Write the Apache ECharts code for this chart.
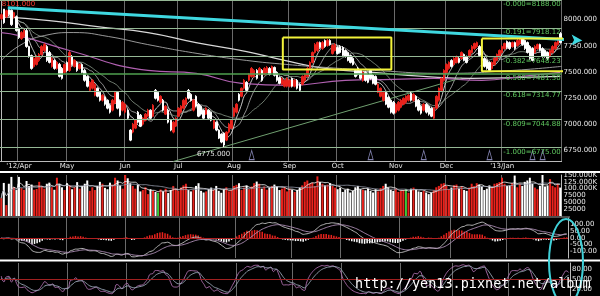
<!DOCTYPE html>
<html><head><meta charset="utf-8">
<script src="https://cdn.jsdelivr.net/npm/echarts@6/dist/echarts.min.js"></script>
<style>html,body{margin:0;padding:0;background:#000}#c{width:600px;height:296px}</style>
</head><body><div id="c"></div>
<script>
// ---------- DATA ----------
const monthLabels = ["'12/Apr","May","Jun","Jul","Aug","Sep","Oct","Nov","Dec","'13/Jan"];
const monthStarts = [7,26,49,70,92,114,133,156,176,198];
// daily candles [open, close, low, high]
const d_mar = [[8009,8047,7995,8060],[8101,7971,7960,8101],[8028,8086,8015,8095],[8095,8047,8035,8100],[8090,7952,7940,8098],[8028,8067,8010,8075],[8028,7895,7885,8040]];
const d_apr = [[7914,7828,7815,7925],[7819,7876,7805,7890],[7838,7895,7825,7905],[7895,7742,7730,7910],[7742,7647,7635,7750],[7656,7532,7520,7665],[7551,7628,7540,7640],[7570,7647,7560,7660],[7609,7666,7595,7680],[7666,7742,7655,7755],[7704,7761,7690,7775],[7742,7609,7595,7755],[7685,7590,7580,7700],[7551,7628,7540,7640],[7609,7532,7520,7620],[7532,7590,7520,7600],[7570,7456,7445,7585],[7532,7437,7425,7545],[7494,7570,7480,7580]];
const d_may = [[7590,7513,7500,7600],[7513,7685,7500,7700],[7647,7570,7560,7660],[7551,7609,7540,7620],[7590,7513,7500,7600],[7532,7570,7520,7580],[7570,7494,7485,7580],[7513,7418,7405,7525],[7456,7361,7350,7465],[7322,7399,7310,7410],[7342,7418,7330,7430],[7275,7380,7265,7390],[7342,7265,7255,7350],[7303,7227,7215,7310],[7227,7275,7215,7285],[7256,7189,7175,7265],[7227,7151,7140,7235],[7179,7113,7100,7190],[7132,7227,7120,7240],[7198,7303,7190,7315],[7303,7151,7140,7315],[7227,7084,7070,7235],[7132,7208,7120,7220]];
const d_jun = [[7113,7189,7100,7200],[7132,7055,7045,7140],[6941,6845,6835,6950],[6922,6998,6910,7010],[6960,7036,6950,7045],[7113,7017,7005,7125],[7084,6979,6970,7095],[6998,7055,6985,7065],[7036,7094,7025,7105],[7074,7132,7065,7145],[7132,7055,7045,7140],[7074,7179,7065,7190],[7322,7246,7235,7335],[7303,7227,7215,7315],[7208,7265,7195,7275],[7227,7132,7120,7240],[7094,7170,7085,7180],[7132,7017,7005,7145],[7036,6941,6930,7045],[6922,7017,6910,7030],[6979,7055,6970,7065]];
const d_jul = [[7074,7151,7065,7160],[7113,7170,7100,7180],[7151,7227,7140,7240],[7189,7246,7180,7255],[7322,7246,7235,7335],[7284,7227,7215,7295],[7132,7227,7120,7240],[7265,7170,7160,7275],[7189,7074,7065,7200],[7170,7094,7080,7180],[7132,7055,7045,7140],[7094,7151,7085,7160],[7132,7055,7045,7140],[7113,7036,7025,7120],[6960,7036,6950,7045],[7017,6941,6930,7025],[6941,6864,6855,6950],[6903,6826,6815,6910],[6912,6798,6775,6920],[6845,6922,6835,6930],[6922,6998,6910,7010],[6960,7036,6950,7045]];
const d_aug = [[7074,7151,7065,7160],[7113,7189,7100,7200],[7284,7227,7215,7295],[7265,7342,7255,7350],[7342,7418,7330,7430],[7399,7322,7310,7410],[7418,7475,7405,7485],[7456,7532,7445,7545],[7456,7513,7445,7525],[7513,7437,7425,7525],[7475,7532,7465,7545],[7513,7418,7405,7525],[7475,7532,7465,7545],[7494,7542,7485,7555],[7532,7475,7465,7545],[7494,7551,7485,7560],[7542,7466,7455,7550],[7494,7418,7405,7505],[7446,7389,7380,7455],[7380,7437,7370,7445],[7361,7418,7350,7430],[7361,7437,7350,7445]];
const d_sep = [[7361,7418,7350,7430],[7437,7361,7350,7445],[7361,7418,7350,7430],[7418,7342,7330,7430],[7380,7322,7310,7390],[7380,7456,7370,7465],[7418,7475,7405,7485],[7456,7532,7445,7545],[7532,7590,7520,7600],[7590,7685,7580,7695],[7685,7761,7675,7775],[7704,7780,7690,7790],[7780,7733,7720,7790],[7723,7780,7710,7795],[7800,7742,7730,7810],[7752,7800,7740,7815],[7800,7761,7750,7812],[7675,7752,7665,7765],[7704,7761,7695,7775]];
const d_oct = [[7733,7675,7665,7745],[7742,7685,7675,7755],[7733,7656,7645,7745],[7704,7647,7635,7715],[7685,7609,7600,7695],[7656,7590,7580,7665],[7628,7570,7560,7640],[7513,7456,7445,7525],[7532,7475,7465,7545],[7513,7437,7425,7525],[7418,7494,7405,7505],[7494,7418,7405,7505],[7475,7399,7390,7485],[7513,7437,7425,7525],[7466,7389,7380,7475],[7456,7380,7370,7465],[7303,7380,7295,7390],[7265,7342,7255,7350],[7227,7303,7215,7315],[7303,7189,7180,7315],[7256,7160,7150,7265],[7227,7113,7100,7235],[7208,7103,7090,7220]];
const d_nov = [[7113,7189,7100,7200],[7132,7208,7120,7220],[7160,7227,7150,7240],[7189,7246,7180,7255],[7208,7265,7195,7275],[7227,7275,7215,7285],[7294,7227,7215,7305],[7227,7284,7215,7295],[7265,7170,7160,7275],[7227,7132,7120,7240],[7170,7103,7090,7180],[7132,7189,7120,7200],[7189,7113,7100,7200],[7170,7094,7080,7180],[7151,7074,7065,7160],[7055,7151,7045,7160],[7151,7265,7140,7275],[7227,7342,7215,7350],[7322,7437,7310,7445],[7418,7513,7405,7525]];
const d_dec = [[7494,7570,7485,7580],[7532,7590,7520,7600],[7609,7551,7540,7620],[7570,7628,7560,7640],[7590,7647,7580,7655],[7628,7590,7580,7640],[7628,7685,7615,7695],[7666,7609,7600,7675],[7647,7590,7580,7655],[7647,7704,7635,7715],[7685,7742,7675,7755],[7723,7771,7710,7780],[7742,7780,7730,7790],[7742,7656,7645,7755],[7685,7609,7600,7695],[7628,7551,7540,7640],[7609,7532,7520,7620],[7590,7513,7500,7600],[7532,7590,7520,7600],[7570,7628,7560,7640],[7609,7666,7600,7675],[7647,7704,7635,7715]];
const d_jan = [[7685,7742,7675,7755],[7723,7771,7710,7780],[7790,7733,7720,7800],[7780,7723,7710,7790],[7742,7780,7730,7790],[7780,7723,7710,7790],[7752,7800,7740,7815],[7771,7819,7760,7830],[7819,7761,7750,7830],[7800,7723,7710,7810],[7780,7685,7675,7790],[7742,7628,7615,7755],[7723,7609,7600,7735],[7685,7742,7675,7755],[7723,7761,7710,7770],[7761,7704,7695,7770],[7723,7647,7635,7735],[7704,7647,7635,7715],[7685,7628,7615,7695],[7647,7704,7635,7715],[7685,7742,7675,7755],[7723,7780,7710,7790],[7761,7819,7750,7830],[7866,7780,7770,7880]];
// daily volume (thousand)
const v_mar = [65,121,40,118,143,105,95];
const v_apr = [143,102,96,128,110,115,96,99,125,110,100,118,122,105,96,140,118,105,95];
const v_may = [120,113,98,105,124,100,110,118,130,92,105,95,110,125,118,103,98,122,115,140,130,112,100];
const v_jun = [150,138,120,110,100,115,90,95,105,80,98,92,88,85,97,90,100,84,95,110,100];
const v_jul = [92,104,112,118,95,90,96,110,120,92,86,90,98,104,96,110,92,85,98,105,90,95];
const v_aug = [110,114,120,95,104,112,98,108,120,126,118,100,108,96,104,110,115,108,95,100,105,90];
const v_sep = [100,96,88,95,104,112,125,130,118,122,110,145,124,118,112,115,120,110,104];
const v_oct = [98,104,88,96,100,86,92,105,110,98,96,94,100,92,86,98,90,102,110,118,104,96,92];
const v_nov = [100,88,92,95,98,85,100,104,96,90,88,92,86,80,85,94,105,110,118,120];
const v_dec = [110,98,104,112,115,100,108,95,92,104,118,110,120,115,108,95,100,112,105,118,120,124];
const v_jan = [140,118,110,112,120,148,105,118,110,125,130,140,118,104,98,110,150,108,112,135,110,105,118,104];
const greenVolDays = [62,160];
// long moving averages read at sparse points [dayIndex, price]
const maLongWhite = [[0,8028],[19,7990],[38,7933],[58,7876],[77,7780],[97,7694],[112,7609],[128,7532],[147,7494],[167,7456],[186,7437],[206,7446],[221,7456]];
const maMagenta = [[0,7876],[7,7847],[27,7704],[58,7513],[77,7485],[95,7389],[114,7370],[136,7418],[155,7427],[171,7437],[190,7418],[206,7456],[221,7494]];
const maGray = [[0,7609],[7.3,7752],[17,7847],[28.7,7876],[42.4,7838],[57.9,7761],[77.4,7676],[96.9,7609],[112.5,7571],[128,7542],[147.5,7513],[174.8,7485],[202,7513],[221.5,7552]];
// Fibonacci retracement levels
const fibRatios = ['0.000','0.191','0.382','0.500','0.618','0.809','1.000'];
const fibValues = [8188,7918.12,7648.23,7481.50,7314.77,7044.88,6775.00];
// trend lines / boxes [dayIndex, price]
const cyanLine = [[2.6,8114],[229.7,7800]];
const greenTrend = [[68,6640],[182,7442]];
const box1 = [[111.3,7828],[154.2,7523]];
const box2 = [[190,7819],[229,7504]];
const signalDays = [99,146,167,193,210,214];
const signalPrice = 6702;
const priceTicks = [6750,7000,7250,7500,7750,8000];

// ---------- BUILD ----------
const ohlc = [].concat(d_mar,d_apr,d_may,d_jun,d_jul,d_aug,d_sep,d_oct,d_nov,d_dec,d_jan);
const vols = [].concat(v_mar,v_apr,v_may,v_jun,v_jul,v_aug,v_sep,v_oct,v_nov,v_dec,v_jan).map(v=>v*1000);
const N = ohlc.length;
const cats = ohlc.map((_,i)=>String(i));
const closes = ohlc.map(d=>d[1]);
const RED='#e8221c', WHITE='#ffffff';
function ma(arr,n){return arr.map((_,i)=>{const s=Math.max(0,i-n+1);let t=0;for(let k=s;k<=i;k++)t+=arr[k];return +(t/(i-s+1)).toFixed(2);});}
function ema(arr,n){const a=2/(n+1);const out=[];arr.forEach((v,i)=>out.push(i?out[i-1]*(1-a)+v*a:v));return out;}
const e12=ema(closes,12), e26=ema(closes,26);
const dif=e12.map((v,i)=>+(v-e26[i]).toFixed(2));
const dea=ema(dif,9).map(v=>+v.toFixed(2));
const hist=dif.map((v,i)=>+(v-dea[i]).toFixed(2));
let K=50,D=50;const kArr=[],dArr=[];
ohlc.forEach((d,i)=>{const s=Math.max(0,i-8);let lo=Infinity,hi=-Infinity;for(let k=s;k<=i;k++){lo=Math.min(lo,ohlc[k][2]);hi=Math.max(hi,ohlc[k][3]);}
 const rsv=hi>lo?(d[1]-lo)/(hi-lo)*100:50;K=K*2/3+rsv/3;D=D*2/3+K/3;kArr.push(+K.toFixed(2));dArr.push(+D.toFixed(2));});
const monthSet=new Set(monthStarts);
const font='DejaVu Sans';
const lbl={color:'#e8e8e8',fontSize:7,fontFamily:font,margin:2};
function xAx(gi,show){return {type:'category',gridIndex:gi,data:cats,boundaryGap:true,
 axisLine:{show:gi===0,lineStyle:{color:'#bbbbbb',width:1}},axisTick:{show:false},
 axisLabel:show?{show:true,color:'#e8e8e8',fontSize:7,fontFamily:font,margin:2,interval:(i)=>monthSet.has(i),formatter:(v)=>monthLabels[monthStarts.indexOf(+v)]||''}:{show:false},
 splitLine:{show:true,interval:(i)=>monthSet.has(i),lineStyle:{color:'#6a6a6a',width:1}}};}
// overlay x axis (index units, same span as the category bands)
const overlayX={type:'value',gridIndex:0,min:-0.5,max:N-0.5,show:false,splitLine:{show:false}};
const series=[];
series.push({type:'candlestick',xAxisIndex:0,yAxisIndex:0,data:ohlc,barWidth:2,z:4,
 itemStyle:{color:RED,color0:WHITE,borderColor:RED,borderColor0:WHITE,borderWidth:1},
 markPoint:{symbol:'circle',symbolSize:0,animation:false,data:[
  {type:'max',valueDim:'highest',label:{show:true,position:[-2,-8],color:'#ff3b30',fontSize:7,fontFamily:font,formatter:p=>p.value.toFixed(3)}},
  {type:'min',valueDim:'lowest',label:{show:true,position:[-27,3],color:'#e0e0e0',fontSize:7,fontFamily:font,formatter:p=>p.value.toFixed(3)}}]}});
const maDefs=[[5,'#ffffff'],[10,'#bdbdbd'],[20,'#8fa08f']];
maDefs.forEach(([n,c])=>series.push({type:'line',xAxisIndex:0,yAxisIndex:0,data:ma(closes,n),showSymbol:false,smooth:true,lineStyle:{color:c,width:0.8},z:3}));
series.push({type:'line',xAxisIndex:4,yAxisIndex:0,data:maLongWhite,showSymbol:false,smooth:true,lineStyle:{color:'#d8d8d8',width:1.2},z:3});
series.push({type:'line',xAxisIndex:4,yAxisIndex:0,data:maMagenta,showSymbol:false,smooth:true,lineStyle:{color:'#b060b0',width:1.2},z:3});
series.push({type:'line',xAxisIndex:4,yAxisIndex:0,data:maGray,showSymbol:false,smooth:true,lineStyle:{color:'#a8a8a8',width:0.9},z:3});
// Fibonacci lines
series.push({type:'line',xAxisIndex:0,yAxisIndex:0,data:[],clip:false,z:2,
 markLine:{silent:true,animation:false,symbol:'none',data:
  fibValues.map((v,i)=>({yAxis:v,lineStyle:{color:i===3?'#4fa04f':'#95b895',width:i===3?1.5:1,type:'solid'},label:{show:true,position:'insideEndBottom',distance:[1,1],color:'#5fc85f',fontSize:7,fontFamily:font,formatter:'-'+fibRatios[i]+'='+v.toFixed(2)}}))}});
// cyan trend line with arrow
series.push({type:'line',xAxisIndex:4,yAxisIndex:0,clip:false,z:6,symbol:'none',showSymbol:true,
 data:[cyanLine[0],{value:cyanLine[1],symbol:'arrow',symbolSize:[8,11],symbolRotate:-93}],
 itemStyle:{color:'#3fd8e0'},lineStyle:{color:'#3fd8e0',width:3}});
// green rising trend line
series.push({type:'line',xAxisIndex:4,yAxisIndex:0,clip:false,z:4,symbol:'none',data:greenTrend,lineStyle:{color:'#6f9f6f',width:1}});
// yellow boxes
[box1,box2].forEach(b=>series.push({type:'line',xAxisIndex:4,yAxisIndex:0,clip:false,z:6,symbol:'none',
 data:[[b[0][0],b[0][1]],[b[1][0],b[0][1]],[b[1][0],b[1][1]],[b[0][0],b[1][1]],[b[0][0],b[0][1]]],lineStyle:{color:'#f2f23a',width:2}}));
series.push({type:'scatter',xAxisIndex:0,yAxisIndex:0,data:signalDays.map(i=>[i,signalPrice]),symbol:'triangle',symbolSize:[5,9],itemStyle:{color:'rgba(0,0,0,0)',borderColor:'#a0a0d8',borderWidth:1},z:4});
// volume
series.push({type:'bar',xAxisIndex:1,yAxisIndex:1,barWidth:2,data:vols.map((v,i)=>({value:v,itemStyle:{color:greenVolDays.includes(i)?'#3cc83c':(ohlc[i][1]>=ohlc[i][0]?RED:WHITE)}}))});
series.push({type:'line',xAxisIndex:1,yAxisIndex:1,data:ma(vols,5),showSymbol:false,smooth:true,lineStyle:{color:'#ffffff',width:0.8}});
series.push({type:'line',xAxisIndex:1,yAxisIndex:1,data:ma(vols,20),showSymbol:false,smooth:true,lineStyle:{color:'#9aa0b0',width:0.8}});
// MACD
series.push({type:'bar',xAxisIndex:2,yAxisIndex:2,barWidth:1.5,data:hist.map(v=>({value:v,itemStyle:{color:v>=0?RED:WHITE}})),
 markLine:{silent:true,animation:false,symbol:'none',label:{show:false},data:[{yAxis:0,lineStyle:{color:'#b02020',width:1,type:'solid'}}]}});
series.push({type:'line',xAxisIndex:2,yAxisIndex:2,data:dif,showSymbol:false,smooth:true,lineStyle:{color:'#c8c8c8',width:0.9}});
series.push({type:'line',xAxisIndex:2,yAxisIndex:2,data:dea,showSymbol:false,smooth:true,lineStyle:{color:'#b090b8',width:0.9}});
// KD
series.push({type:'line',xAxisIndex:3,yAxisIndex:3,data:kArr,showSymbol:false,smooth:true,lineStyle:{color:'#b070b0',width:0.9},
 markLine:{silent:true,animation:false,symbol:'none',label:{show:false},data:[{yAxis:50,lineStyle:{color:'#a02020',width:1,type:'solid'}}]}});
series.push({type:'line',xAxisIndex:3,yAxisIndex:3,data:dArr,showSymbol:false,smooth:true,lineStyle:{color:'#9aa8b8',width:0.9}});

const yRight=(gi,o)=>Object.assign({type:'value',gridIndex:gi,position:'right',scale:false,
 axisLine:{show:true,lineStyle:{color:'#bbbbbb'}},axisTick:{show:false},splitLine:{show:false},axisLabel:Object.assign({},lbl)},o);
const option={backgroundColor:'#000',animation:false,
 grid:[{left:0,right:30,top:-0.7,height:161.7},{left:0,right:30,top:175,height:41},{left:0,right:30,top:218,height:40},{left:0,right:30,top:263,height:36.7}],
 xAxis:[xAx(0,true),xAx(1,false),xAx(2,false),xAx(3,false),overlayX],
 yAxis:[
  yRight(0,{min:6645,max:8188,axisLabel:Object.assign({},lbl,{customValues:priceTicks,formatter:v=>v.toFixed(3)})}),
  yRight(1,{min:0,max:150000,interval:25000,axisLabel:Object.assign({},lbl,{formatter:v=>v===0?'':(v>=100000?(v/1000).toFixed(3)+'K':String(v))})}),
  yRight(2,{min:-150,max:150,interval:50,axisLabel:Object.assign({},lbl,{formatter:v=>v.toFixed(2)})}),
  yRight(3,{min:0,max:100,interval:10,axisLabel:Object.assign({},lbl,{formatter:v=>[20,50,80].includes(v)?v.toFixed(2):''})})],
 series,
 graphic:[
  {type:'rect',shape:{x:0,y:171,width:600,height:2},style:{fill:'#ffffff'},silent:true},
  {type:'rect',shape:{x:0,y:216.5,width:570,height:1},style:{fill:'#9a9a9a'},silent:true},
  {type:'rect',shape:{x:0,y:259.5,width:600,height:2},style:{fill:'#ffffff'},silent:true},
  {type:'ellipse',shape:{cx:566,cy:262,rx:17,ry:43},style:{fill:'none',stroke:'#3fd0d8',lineWidth:2},silent:true,z:100},
  {type:'text',x:355,y:277,style:{text:'http://yen13.pixnet.net/album',fill:'#ffffff',font:'13.5px "DejaVu Sans Mono"'},silent:true,z:100}
 ]};
const chart=echarts.init(document.getElementById('c'));
chart.setOption(option);
</script></body></html>
